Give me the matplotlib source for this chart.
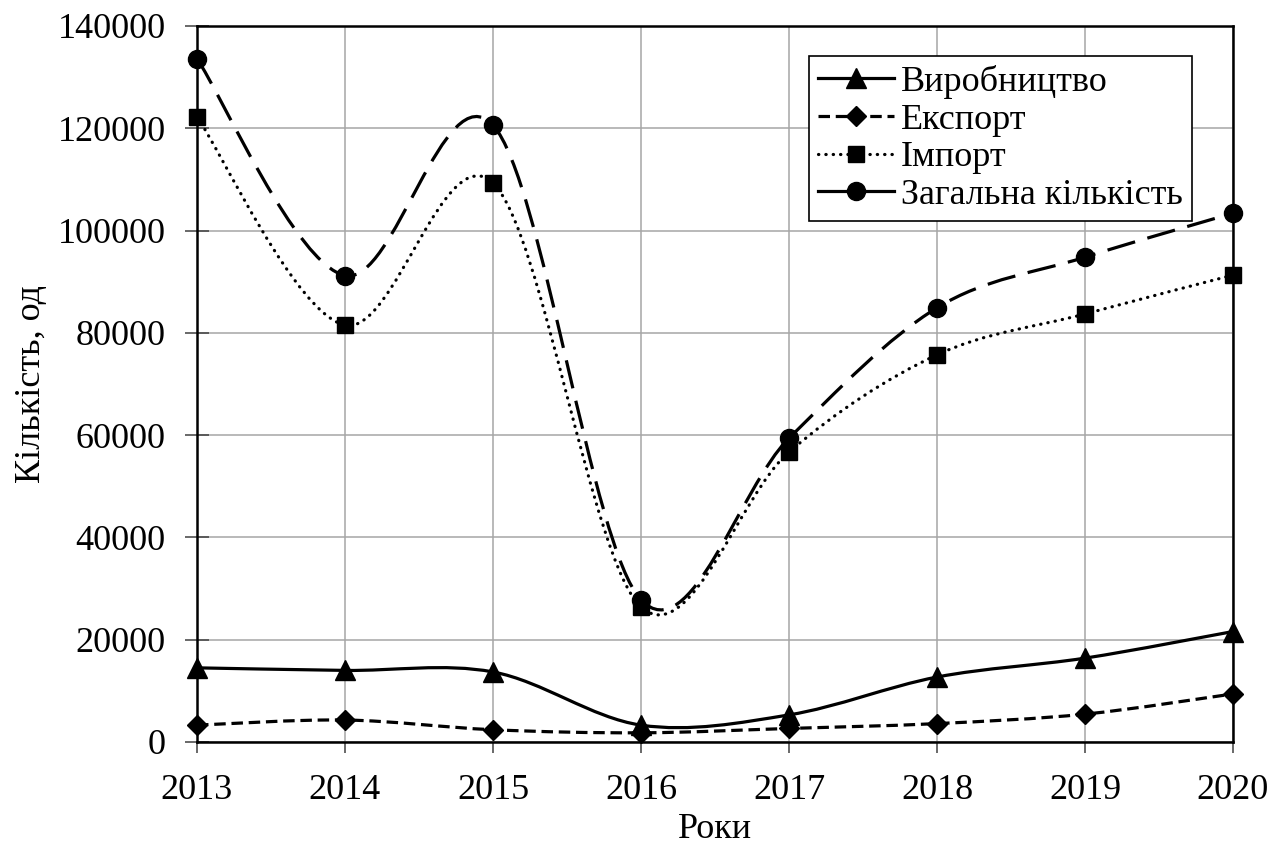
import matplotlib
matplotlib.use("Agg")
import matplotlib.pyplot as plt
from matplotlib.path import Path
from matplotlib.patches import PathPatch
from matplotlib.lines import Line2D
import numpy as np

# Дані
years = [2013, 2014, 2015, 2016, 2017, 2018, 2019, 2020]
vyrobnytstvo = [14500, 14000, 13700, 3300, 5300, 12700, 16400, 21600]
eksport = [3300, 4300, 2400, 1800, 2650, 3600, 5450, 9400]
import_ = [122200, 81500, 109300, 26400, 56700, 75700, 83700, 91300]
zagalna = [133600, 91200, 120600, 27800, 59400, 84900, 94800, 103400]

labels = ["Виробництво", "Експорт", "Імпорт", "Загальна кількість"]

plt.rcParams['font.family'] = ['Liberation Serif', 'DejaVu Serif']
FS = 26


def smooth_path(x, y):
    # згладжена лінія як в Excel (Безьє / Catmull-Rom)
    p = np.column_stack([x, y]).astype(float)
    n = len(p)
    verts = [p[0]]
    codes = [Path.MOVETO]
    for i in range(n - 1):
        p0 = p[i - 1] if i > 0 else p[i]
        p3 = p[i + 2] if i + 2 < n else p[i + 1]
        c1 = p[i] + (p[i + 1] - p0) / 6
        c2 = p[i + 1] - (p3 - p[i]) / 6
        verts += [c1, c2, p[i + 1]]
        codes += [Path.CURVE4] * 3
    return Path(verts, codes)


fig = plt.figure(figsize=(12.76, 8.52), dpi=100)
ax = fig.add_axes([197/1276, 1-742/852, (1233-197)/1276, (742-26)/852])

lw = 2.3
styles = [
    dict(ls='-', marker='^', ms=15),
    dict(ls=(0, (3.6, 1.8)), marker='D', ms=10),
    dict(ls=(0, (0.1, 2.2)), marker='s', ms=11),
    dict(ls=(0, (9, 4)), marker='o', ms=13),
]
series = [vyrobnytstvo, eksport, import_, zagalna]

for vals, st in zip(series, styles):
    patch = PathPatch(smooth_path(years, vals), fill=False, edgecolor='black',
                      linewidth=lw, linestyle=st['ls'],
                      capstyle='round' if st['marker'] == 's' else 'butt', zorder=3)
    ax.add_patch(patch)
    ax.plot(years, vals, linestyle='none', marker=st['marker'], markersize=st['ms'],
            color='black', zorder=4, clip_on=False)

ax.set_xlim(2013, 2020)
ax.set_ylim(0, 140000)
ax.set_xticks(years)
ax.set_yticks(np.arange(0, 140001, 20000))
ax.grid(True, color='#a6a6a6', linewidth=1.1)
ax.set_axisbelow(True)
for s in ax.spines.values():
    s.set_linewidth(1.8)
    s.set_color('black')

ax.tick_params(axis='y', direction='inout', length=17, width=1.1, color='#404040',
               labelsize=FS, pad=14)
ax.tick_params(axis='x', direction='out', length=8, width=1.1, color='#404040',
               labelsize=FS, pad=15)

ax.set_xlabel("Роки", fontsize=FS, labelpad=4)
ax.set_ylabel("Кількість, од", fontsize=FS, labelpad=7)

handles = []
for i, st in enumerate(styles):
    ls = '-' if i == 3 else st['ls']
    h = Line2D([], [], color='black', linewidth=lw, linestyle=ls,
               marker=st['marker'], markersize=st['ms'])
    if st['marker'] == 's':
        h.set_dash_capstyle('round')
    handles.append(h)

leg = ax.legend(handles, labels, loc='upper right',
                bbox_to_anchor=(1192/1276, 1-56/852), bbox_transform=fig.transFigure,
                borderaxespad=0, fontsize=FS, frameon=True, fancybox=False,
                framealpha=1, edgecolor='black', labelspacing=0.12, borderpad=0.25,
                handlelength=2.1, handletextpad=0.2)
leg.get_frame().set_linewidth(1.2)

fig.savefig("out.png", dpi=100)
